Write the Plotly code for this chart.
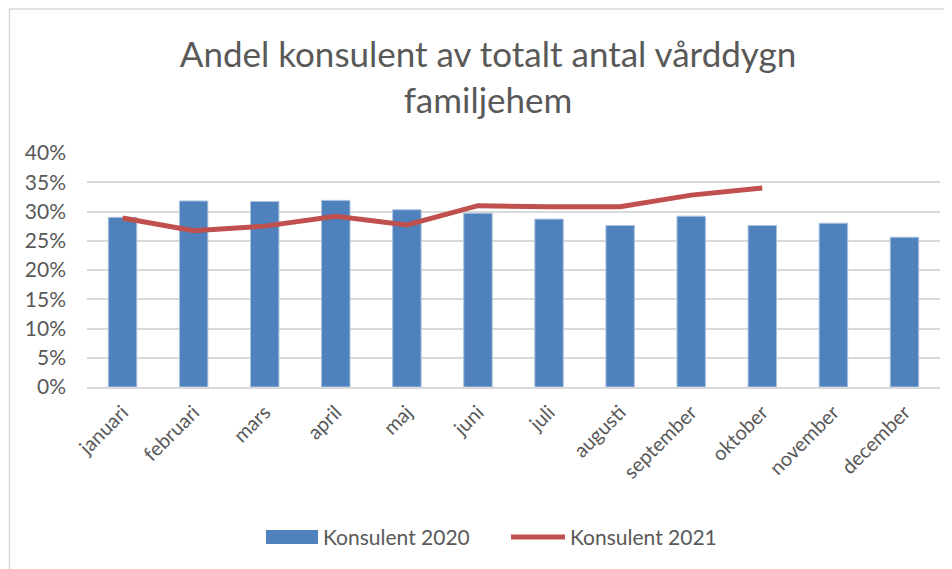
import plotly.graph_objects as go

months = ["januari", "februari", "mars", "april", "maj", "juni", "juli",
          "augusti", "september", "oktober", "november", "december"]
konsulent_2020 = [0.290, 0.318, 0.317, 0.319, 0.303, 0.297, 0.287,
                  0.276, 0.292, 0.276, 0.280, 0.256]
konsulent_2021 = [0.289, 0.267, 0.275, 0.292, 0.277, 0.310, 0.308,
                  0.308, 0.328, 0.340]
name_2020 = "Konsulent 2020"
name_2021 = "Konsulent 2021"
title_text = "Andel konsulent av totalt antal vårddygn<br>familjehem"

W, H = 952, 569
OFF = 8  # page body margin offset
# target plot area in screen pixels: x 87..940, y 153..387
L = 87 - OFF
R = W - (940 - OFF)
T = 153 - OFF
B = H - (387 - OFF)
pw, ph = W - L - R, H - T - B

def px(x):
    return (x - OFF - L) / pw

def py(y):
    return (H - B - (y - OFF)) / ph

FONT = "Lato, sans-serif"
GREY = "#595959"

fig = go.Figure()
fig.add_trace(go.Bar(x=months, y=konsulent_2020, name=name_2020,
                     marker=dict(color="#4f81bd", line=dict(color="#a9c1de", width=1)),
                     width=0.4, showlegend=False))
fig.add_trace(go.Scatter(x=months[:len(konsulent_2021)], y=konsulent_2021, name=name_2021,
                         mode="lines", line=dict(color="#c0504d", width=5),
                         showlegend=False))

shapes = [
    dict(type="rect", xref="paper", yref="paper", x0=px(OFF + 1.5), x1=px(W + 30),
         y0=py(H + 30), y1=py(OFF + 1), line=dict(color="#d9d9d9", width=1.5),
         fillcolor="rgba(0,0,0,0)", layer="below"),
    dict(type="rect", xref="paper", yref="paper", x0=px(266), x1=px(318),
         y0=py(544), y1=py(530), line=dict(width=0), fillcolor="#4f81bd"),
    dict(type="line", xref="paper", yref="paper", x0=px(511), x1=px(565),
         y0=py(537), y1=py(537), line=dict(color="#c0504d", width=5)),
]
annotations = [
    dict(text=name_2020, xref="paper", yref="paper", x=px(321), y=py(536),
         xanchor="left", yanchor="middle", showarrow=False,
         font=dict(family=FONT, size=21, color=GREY)),
    dict(text=name_2021, xref="paper", yref="paper", x=px(568), y=py(536),
         xanchor="left", yanchor="middle", showarrow=False,
         font=dict(family=FONT, size=21, color=GREY)),
]

fig.update_layout(
    width=W, height=H,
    margin=dict(l=L, r=R, t=T, b=B),
    paper_bgcolor="white", plot_bgcolor="white",
    title=dict(text=title_text, xref="container", yref="container",
               x=(488 - OFF) / W, y=1 - (67 - OFF) / H, xanchor="center", yanchor="middle",
               font=dict(family=FONT, size=35, color=GREY)),
    shapes=shapes, annotations=annotations,
    font=dict(family=FONT, color=GREY),
)
fig.update_xaxes(tickangle=-45, tickfont=dict(family=FONT, size=20, color=GREY),
                 showgrid=False, showline=True, linecolor="#d9d9d9", linewidth=1.5,
                 ticks="", ticklabelstandoff=4)
fig.update_yaxes(range=[0, 0.40], dtick=0.05, tickformat=".0%",
                 tickfont=dict(family=FONT, size=21, color=GREY),
                 showgrid=True, gridcolor="#d9d9d9", gridwidth=1.5,
                 zeroline=False, showline=False, ticks="", ticklabelstandoff=20)

fig.write_html("out.html")
